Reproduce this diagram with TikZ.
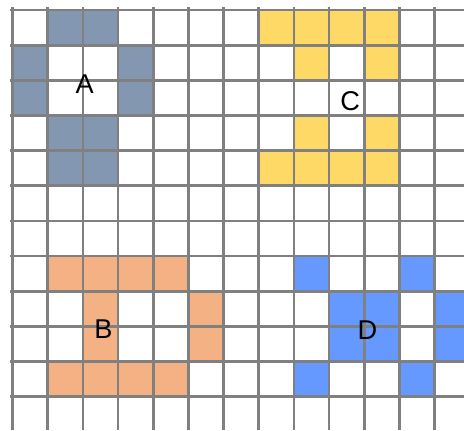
\documentclass[tikz,border=0pt]{standalone}
\usepackage{fontspec}
\setmainfont{Liberation Sans}
\usepackage{xcolor}
\usepackage{tikz}
\definecolor{slateblue}{RGB}{132, 151, 176}
\definecolor{sandyellow}{RGB}{255, 217, 102}
\definecolor{peachorange}{RGB}{244, 177, 131}
\definecolor{brightblue}{RGB}{102, 153, 255}
\definecolor{gridgray}{RGB}{128, 128, 128}

\begin{document}
\begin{tikzpicture}[
    gridline/.style={draw=gridgray, line width=2.2pt},
    lbl/.style={font=\fontsize{22}{24}\selectfont, inner sep=0pt},
    shapeA/.style={fill=slateblue},
    shapeB/.style={fill=peachorange},
    shapeC/.style={fill=sandyellow},
    shapeD/.style={fill=brightblue}
]
    \useasboundingbox (-0.36,0.285) rectangle (12.84,-11.95);
    % filled cells, given as column/row counted from the top left
    \foreach \c/\r in {1/0,2/0,0/1,3/1,0/2,3/2,1/3,2/3,1/4,2/4}
        \fill[shapeA] (\c,-\r) rectangle ++(1,-1);
    \foreach \c/\r in {7/0,8/0,9/0,10/0,8/1,10/1,8/3,10/3,7/4,8/4,9/4,10/4}
        \fill[shapeC] (\c,-\r) rectangle ++(1,-1);
    \foreach \c/\r in {1/7,2/7,3/7,4/7,2/8,5/8,2/9,5/9,1/10,2/10,3/10,4/10}
        \fill[shapeB] (\c,-\r) rectangle ++(1,-1);
    \foreach \c/\r in {8/7,11/7,9/8,10/8,12/8,9/9,10/9,12/9,8/10,11/10}
        \fill[shapeD] (\c,-\r) rectangle ++(1,-1);
    % grid
    \draw[gridline] (-0.08,0.08) grid (12.84,-11.95);
    % labels
    \node[lbl] (a) at (2.05,-2.1) {A};
    \node[lbl] (c) at (9.6,-2.58) {C};
    \node[lbl] (b) at (2.58,-9.09) {B};
    \node[lbl] (d) at (10.09,-9.12) {D};
\end{tikzpicture}
\end{document}
